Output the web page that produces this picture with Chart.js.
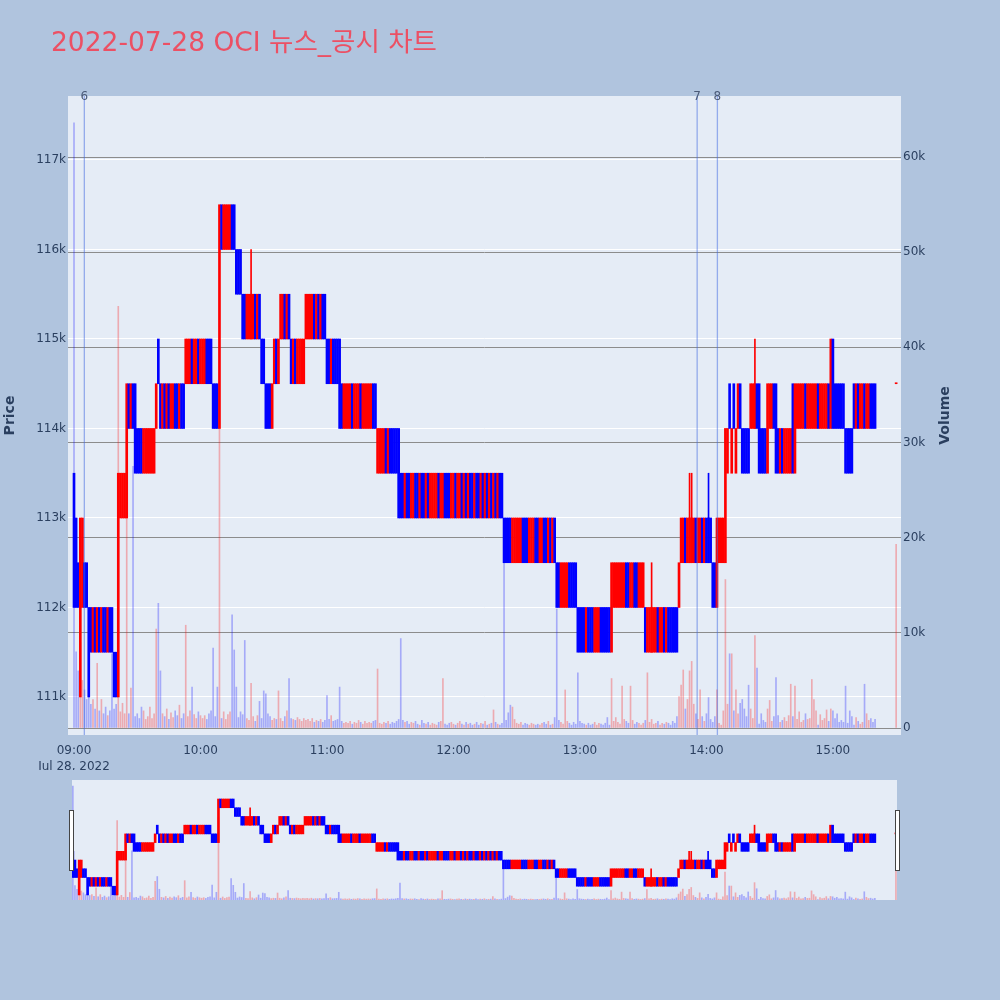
<!DOCTYPE html>
<html>
<head>
<meta charset="utf-8">
<script src="https://cdn.jsdelivr.net/npm/chart.js@4.4.0/dist/chart.umd.min.js"></script>
<style>
  html, body { margin: 0; padding: 0; background: #b0c4de; }
  #wrap { position: relative; width: 1000px; height: 1000px; }
  #main { position: absolute; left: 0; top: 0; width: 1000px; height: 770px; }
  #slider { position: absolute; left: 0; top: 770px; width: 1000px; height: 140px; }
</style>
</head>
<body>
<div id="wrap">
  <canvas id="main" width="1000" height="770"></canvas>
  <canvas id="slider" width="1000" height="140"></canvas>
</div>
<script>
const FONT = '"DejaVu Sans", "Noto Sans CJK KR", sans-serif';
const TXT = '#2a3f5f';
const UP = 'rgb(255,0,0)', DOWN = 'rgb(0,0,255)';
const UP_VOL = 'rgba(255,0,0,0.28)', DOWN_VOL = 'rgba(0,0,255,0.28)';

const chartTitle = '2022-07-28 OCI 뉴스_공시 차트';

// one entry per minute after 09:00 (index 0 = 09:00, 390 = 15:30), prices in thousand won
const opens = [
  113.5,113,112.5,111,112,112.5,112.5,112,112,111.5,
  112,111.5,112,111.5,112,112,111.5,112,112,111.5,
  111.5,111,113,113,113,113,114.5,114,114.5,114.5,
  114,114,114,113.5,113.5,113.5,113.5,113.5,113.5,114,
  115,114.5,114,114.5,114,114.5,114,114,114.5,114.5,
  114,114.5,114.5,114.5,114.5,114.5,115,114.5,114.5,115,
  114.5,114.5,114.5,115,115,115,114.5,114.5,114.5,114,
  116.5,116,116,116,116,116.5,116.5,116,116,116,
  115.5,115.5,115,115,115,115,115.5,115,115.5,115,
  115,114.5,114.5,114.5,114,114.5,115,114.5,115,115,
  115.5,115,115.5,115,114.5,115,114.5,114.5,114.5,114.5,
  115,115,115,115,115.5,115,115.5,115,115.5,115.5,
  115,115,114.5,115,115,115,115,114.5,114,114,
  114,114,114.5,114,114,114,114.5,114,114,114,
  114,114,114.5,114.5,113.5,113.5,113.5,113.5,114,113.5,
  114,114,114,114,114,113.5,113.5,113,113.5,113.5,
  113,113,113.5,113.5,113,113.5,113.5,113,113.5,113,
  113,113,113,113.5,113,113,113.5,113.5,113.5,113,
  113,113.5,113,113,113.5,113,113.5,113,113.5,113.5,
  113,113.5,113.5,113,113.5,113,113.5,113,113.5,113,
  113.5,113,113.5,113.5,113,113,113,113,112.5,112.5,
  112.5,112.5,112.5,113,113,113,112.5,112.5,112.5,113,
  113,112.5,112.5,113,113,112.5,113,112.5,113,112.5,
  112.5,112,112,112,112,112.5,112.5,112.5,112.5,112,
  112,112,112,111.5,112,112,112,111.5,111.5,111.5,
  112,112,112,112,112,111.5,112,112,112,112,
  112,112,112.5,112.5,112,112,112.5,112.5,112,112,
  112,112,111.5,111.5,111.5,111.5,111.5,112,111.5,111.5,
  112,111.5,112,112,112,112,112,112,112.5,112.5,
  113,112.5,112.5,112.5,112.5,113,112.5,112.5,113,112.5,
  113,113,113,112.5,112.5,112,112.5,112.5,112.5,112.5,
  113.5,114.5,113.5,114.5,113.5,114,114.5,114,114,114,
  114,114,114,114,114.5,114.5,114,114,114,113.5,
  114,114,114.5,114.5,114,113.5,114,113.5,113.5,113.5,
  113.5,114.5,113.5,114,114,114,114,114.5,114,114,
  114,114,114,114.5,114,114,114,114,114.5,114,
  115,114.5,114.5,114.5,114.5,114.5,114,114,114,114,
  114.5,114,114.5,114,114,114.5,114,114,114.5,114.5,
  114.5,null,null,null,null,null,null,null,null,null,
  114.5
];
const closes = [
  112,112,112,113,113,112,112,111,111.5,112,
  111.5,112,111.5,112,111.5,111.5,112,111.5,111.5,111,
  111,113.5,113.5,113.5,113.5,114.5,114,114.5,114,113.5,
  113.5,113.5,113.5,114,114,114,114,114,114,114.5,
  114.5,114,114.5,114,114.5,114,114.5,114.5,114,114,
  114.5,114,114,115,115,115,114.5,115,115,114.5,
  115,115,115,114.5,114.5,114.5,114,114,114,116.5,
  116,116.5,116.5,116.5,116.5,116,116,115.5,115.5,115.5,
  115,115,115.5,115.5,115.5,115.5,115,115.5,115,114.5,
  114.5,114,114,114,114.5,115,114.5,115,115.5,115.5,
  115,115.5,115,114.5,115,114.5,115,115,115,115,
  115.5,115.5,115.5,115.5,115,115.5,115,115.5,115,115,
  114.5,114.5,115,114.5,114.5,114.5,114,114,114.5,114.5,
  114.5,114.5,114,114.5,114.5,114.5,114,114.5,114.5,114.5,
  114.5,114.5,114,114,114,114,114,114,113.5,114,
  113.5,113.5,113.5,113.5,113,113,113,113.5,113,113,
  113.5,113.5,113,113,113.5,113,113,113.5,113,113.5,
  113.5,113.5,113.5,113,113.5,113.5,113,113,113,113.5,
  113.5,113,113.5,113.5,113,113.5,113,113.5,113,113,
  113.5,113,113,113.5,113,113.5,113,113.5,113,113.5,
  113,113.5,113,113,112.5,112.5,112.5,112.5,113,113,
  113,113,113,112.5,112.5,112.5,113,113,113,112.5,
  112.5,113,113,112.5,112.5,113,112.5,113,112.5,112,
  112,112.5,112.5,112.5,112.5,112,112,112,112,111.5,
  111.5,111.5,111.5,112,111.5,111.5,111.5,112,112,112,
  111.5,111.5,111.5,111.5,111.5,112.5,112.5,112.5,112.5,112.5,
  112.5,112.5,112,112,112.5,112.5,112,112,112.5,112.5,
  112.5,111.5,112,112,112,112,112,111.5,112,112,
  111.5,112,111.5,111.5,111.5,111.5,111.5,112.5,113,113,
  112.5,113,113,113,113,112.5,113,113,112.5,113,
  112.5,112.5,112.5,112,112,113,113,113,113,114,
  114,114,114,114,114,114.5,114,113.5,113.5,113.5,
  113.5,114.5,114.5,114.5,114,113.5,113.5,113.5,113.5,114.5,
  114.5,114.5,114,113.5,113.5,114,113.5,114,114,114,
  114,113.5,114.5,114.5,114.5,114.5,114.5,114,114.5,114.5,
  114.5,114.5,114.5,114,114.5,114.5,114.5,114.5,114,115,
  114,114,114,114,114,114,113.5,113.5,113.5,113.5,
  114,114.5,114,114.5,114.5,114,114.5,114.5,114,114,
  114,null,null,null,null,null,null,null,null,null,
  114.5
];
const volumes = [
  63600,8000,6000,9000,5000,4000,3000,4000,2500,3000,
  2000,6800,1800,3000,1500,2200,1300,1800,7800,2000,
  2500,44300,1700,2600,1500,23000,1500,4200,27500,1200,
  1500,1000,2200,1800,900,1200,2200,1000,1500,10400,
  13100,6000,1500,1200,2000,900,1600,1100,1800,1300,
  2400,1000,1500,10800,1200,1800,4300,1400,1000,1700,
  1300,1000,1300,900,1500,1800,8400,1200,4300,46000,
  1000,1700,900,1400,1700,11900,8200,4300,1100,1700,
  1400,9200,1000,800,4700,1200,700,1300,2800,1000,
  3900,3600,1500,1200,800,1000,900,3900,1000,700,
  1200,1800,5200,1000,900,800,1100,900,700,1000,
  800,900,700,1000,600,800,700,900,600,800,
  3400,900,1300,700,800,900,4300,700,500,600,
  500,700,400,600,500,800,600,400,700,500,
  600,500,700,800,6200,500,400,600,500,700,
  400,600,500,700,900,9400,800,600,700,400,
  600,500,700,400,300,800,500,400,600,300,
  500,400,300,600,700,5200,400,300,500,600,
  400,300,500,700,400,300,600,400,500,300,
  400,600,300,500,400,700,300,400,500,1900,
  600,400,300,500,17300,800,1600,2400,2200,900,
  500,400,600,300,500,400,300,500,400,300,
  400,300,500,600,400,700,300,400,1100,12500,
  800,600,400,4000,700,500,300,600,400,5800,
  700,500,400,300,500,300,400,600,300,500,
  400,300,500,1100,300,5200,700,1100,600,400,
  4400,900,700,500,4400,800,400,600,500,300,
  500,800,5800,600,900,400,500,700,300,500,
  400,600,500,300,700,500,1200,3300,4500,6100,
  2000,3000,6000,7000,2500,1500,900,4000,1200,700,
  1500,3200,900,600,1200,4000,500,300,1800,15600,
  2500,7800,7800,1800,4000,1500,2600,3000,2000,1200,
  4500,2000,1000,9700,6300,400,1500,800,600,2000,
  2900,700,1200,5300,1300,600,800,1100,700,1300,
  4600,1200,4400,900,1700,600,800,1500,900,1000,
  5100,3000,1800,300,1400,800,1000,1900,700,2000,
  1800,1000,1500,600,800,600,4400,500,1800,1200,
  300,1100,700,400,600,4600,1500,800,1000,600,
  900,null,null,null,null,null,null,null,null,null,
  19300
];

// candles whose high sticks out past the body
const wickMinutes = [84, 274, 292, 293, 301, 323];
const wickLows = [115, 111.5, 112.5, 112.5, 112.5, 114];
const wickHighs = [116, 112.5, 113.5, 113.5, 113.5, 115];

// news / disclosure markers (minutes after 09:00)
const newsMinutes = [4.9, 295.6, 305.2];
const newsLabels = ['6', '7', '8'];

const timeTicks = [0, 60, 120, 180, 240, 300, 360];
const priceTicks = [111, 112, 113, 114, 115, 116, 117];
const volumeTicks = [0, 10000, 20000, 30000, 40000, 50000, 60000];

function isUp(i) { return closes[i] >= opens[i]; }
function hhmm(v) {
  const h = 9 + Math.floor(v / 60), m = v % 60;
  return String(h).padStart(2, '0') + ':' + String(m).padStart(2, '0');
}

function makeDatasets(bodyW, volW) {
  const candles = [], vols = [], wicks = [];
  opens.forEach((o, i) => {
    if (o === null) return;
    candles.push({x: i, y: [o, closes[i]]});
    vols.push({x: i, y: volumes[i]});
  });
  wickMinutes.forEach((m, k) => wicks.push({x: m, y: [wickLows[k], wickHighs[k]]}));
  const col = (a, b) => c => (c.raw && isUp(c.raw.x)) ? a : b;
  return [
    {data: candles, yAxisID: 'y', grouped: false, barThickness: bodyW, minBarLength: 1,
     backgroundColor: col(UP, DOWN), borderWidth: 0},
    {data: wicks, yAxisID: 'y', grouped: false, barThickness: 1,
     backgroundColor: col(UP, DOWN), borderWidth: 0},
    {data: vols, yAxisID: 'y1', grouped: false, barThickness: volW,
     backgroundColor: col(UP_VOL, DOWN_VOL), borderWidth: 0}
  ];
}

const plotBg = {
  id: 'plotBg',
  beforeDraw(chart) {
    const {ctx, chartArea: a} = chart;
    ctx.save();
    ctx.fillStyle = '#e5ecf6';
    ctx.fillRect(a.left, a.top, a.right - a.left, a.bottom - a.top);
    ctx.restore();
  }
};

const overlay = {
  id: 'overlay',
  afterDatasetsDraw(chart) {
    const {ctx, chartArea: a} = chart;
    const xs = chart.scales.x;
    ctx.save();
    ctx.strokeStyle = 'rgba(65,105,225,0.5)';
    ctx.lineWidth = 1.3;
    ctx.fillStyle = '#4a5a78';
    ctx.font = '12px ' + FONT;
    ctx.textAlign = 'center';
    ctx.textBaseline = 'middle';
    newsMinutes.forEach((m, k) => {
      const x = xs.getPixelForValue(m);
      ctx.beginPath();
      ctx.moveTo(x, a.top);
      ctx.lineTo(x, a.bottom);
      ctx.stroke();
      ctx.fillText(newsLabels[k], x, a.top + 1);
    });
    ctx.restore();
  },
  afterDraw(chart) {
    const {ctx, chartArea: a} = chart;
    const midY = (a.top + a.bottom) / 2;
    ctx.save();
    ctx.fillStyle = 'rgb(236,80,100)';
    ctx.font = '26.5px ' + FONT;
    ctx.textAlign = 'left';
    ctx.textBaseline = 'alphabetic';
    ctx.fillText(chartTitle, 51, 51);
    ctx.fillStyle = TXT;
    ctx.font = 'bold 14px ' + FONT;
    ctx.textAlign = 'center';
    ctx.textBaseline = 'middle';
    [['Price', 10], ['Volume', 945]].forEach(([t, x]) => {
      ctx.save();
      ctx.translate(x, midY);
      ctx.rotate(-Math.PI / 2);
      ctx.fillText(t, 0, 0);
      ctx.restore();
    });
    ctx.restore();
  }
};

const handles = {
  id: 'handles',
  afterDraw(chart) {
    const {ctx, chartArea: a} = chart;
    ctx.save();
    ctx.fillStyle = '#ffffff';
    ctx.strokeStyle = '#444444';
    ctx.lineWidth = 1;
    [a.left - 2.5, a.right - 1.5].forEach(x => {
      ctx.fillRect(x, a.top + 31, 4, 59);
      ctx.strokeRect(x, a.top + 30.5, 4, 60);
    });
    ctx.restore();
  }
};

new Chart(document.getElementById('main'), {
  type: 'bar',
  data: {datasets: makeDatasets(2, 1)},
  options: {
    responsive: false,
    animation: false,
    layout: {padding: {top: 96, right: 45, bottom: 0, left: 0}},
    plugins: {legend: {display: false}, tooltip: {enabled: false}},
    scales: {
      x: {
        type: 'linear', min: -2.85, max: 392.3, offset: false,
        grid: {display: false}, border: {display: false},
        afterBuildTicks: s => { s.ticks = timeTicks.map(v => ({value: v})); },
        afterFit: s => { s.height = 35; },
        ticks: {
          autoSkip: false, maxRotation: 0, padding: 0, color: TXT,
          font: {family: FONT, size: 12, lineHeight: 1.3},
          callback: v => v === 0 ? [hhmm(v), 'Jul 28, 2022'] : hhmm(v)
        }
      },
      y: {
        position: 'left', min: 110.575, max: 117.715,
        afterBuildTicks: s => { s.ticks = priceTicks.map(v => ({value: v})); },
        afterFit: s => { s.width = 68; },
        grid: {color: '#ffffff', lineWidth: 1, drawTicks: false},
        border: {display: false},
        ticks: {padding: 2, color: TXT, font: {family: FONT, size: 12}, callback: v => v + 'k'}
      },
      y1: {
        position: 'right', min: -735, max: 66410,
        afterBuildTicks: s => { s.ticks = volumeTicks.map(v => ({value: v})); },
        afterFit: s => { s.width = 54; },
        grid: {color: '#8c8c8c', lineWidth: 1, drawTicks: false},
        border: {display: false},
        ticks: {padding: 2, color: TXT, font: {family: FONT, size: 12},
                callback: v => v === 0 ? '0' : (v / 1000) + 'k'}
      }
    }
  },
  plugins: [plotBg, overlay]
});

new Chart(document.getElementById('slider'), {
  type: 'bar',
  data: {datasets: makeDatasets(2, 1)},
  options: {
    responsive: false,
    animation: false,
    layout: {padding: {top: 10, right: 103, bottom: 10, left: 72}},
    plugins: {legend: {display: false}, tooltip: {enabled: false}},
    scales: {
      x: {type: 'linear', display: false, min: -0.4, max: 390.5, offset: false},
      y: {display: false, min: 110.71, max: 117.59},
      y1: {display: false, position: 'right', min: 0, max: 67000}
    }
  },
  plugins: [plotBg, handles]
});
</script>
</body>
</html>
